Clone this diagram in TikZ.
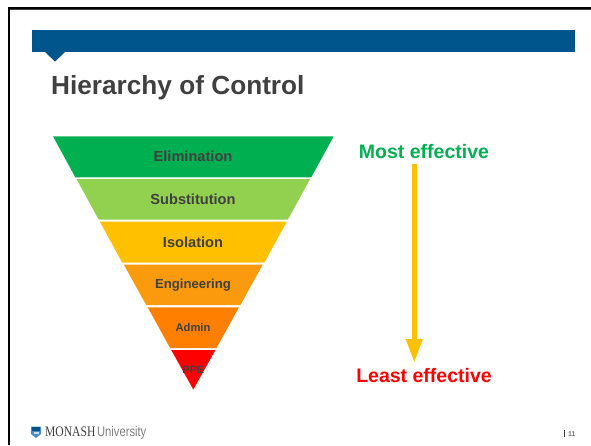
\documentclass[tikz,border=0pt]{standalone}
\usepackage{fontspec}
\setmainfont{Liberation Sans}
\newfontfamily\serifface{Liberation Serif}
\usetikzlibrary{arrows.meta}
\definecolor{barblue}{HTML}{00558C}
\definecolor{inktext}{HTML}{404040}
\definecolor{tierA}{HTML}{00B050}
\definecolor{tierB}{HTML}{92D050}
\definecolor{tierC}{HTML}{FFC000}
\definecolor{tierD}{HTML}{FB9A0C}
\definecolor{tierE}{HTML}{FF8000}
\definecolor{tierF}{HTML}{FF0000}
\definecolor{shieldblue}{HTML}{4F8FC0}
\newcommand{\fsz}[1]{\fontsize{#1}{#1}\selectfont}
\tikzset{
  tierlabel/.style={inner sep=0pt,text=inktext,font=\bfseries\fsz{#1}},
  effect/.style={inner sep=0pt,font=\bfseries\fsz{19.5}},
  logotext/.style={inner sep=0pt,anchor=base west,xscale=0.8,transform shape},
}
\begin{document}
\begin{tikzpicture}[x=1pt,y=-1pt]
\useasboundingbox (0,0) rectangle (591,445);
\fill[white] (0,0) rectangle (591,445);
% slide frame
\fill[black] (7.5,7) rectangle (591,9.3);
\fill[black!75] (10,9.3) rectangle (591,10);
\fill[black] (7.5,7) rectangle (10,445);
% header bar
\fill[barblue] (32,30) rectangle (575,52);
\fill[barblue] (45,52) -- (65,52) -- (55,61.5) -- cycle;
\node[inner sep=0pt,anchor=base west,text=inktext,font=\bfseries\fsz{26.2}] (title) at (51,94) {Hierarchy of Control};
% pyramid tiers
\fill[tierA] (53,136.3) -- (333.7,136.3) -- (311.3,177.3) -- (75.3,177.3) -- cycle;
\fill[tierB] (76.5,179) -- (310.1,179) -- (287.8,219.7) -- (98.8,219.7) -- cycle;
\fill[tierC] (99.9,221.7) -- (286.7,221.7) -- (264.4,262.6) -- (122.2,262.6) -- cycle;
\fill[tierD] (123.8,264.5) -- (262.8,264.5) -- (240.4,305) -- (146.2,305) -- cycle;
\fill[tierE] (147.7,307.3) -- (238.9,307.3) -- (216.5,348) -- (170.1,348) -- cycle;
\fill[tierF] (171.2,350) -- (215.4,350) -- (193.3,389.5) -- cycle;
\node[tierlabel=14.6] (elim) at (193,156) {Elimination};
\node[tierlabel=14.6] (subst) at (193,199.3) {Substitution};
\node[tierlabel=14.6] (iso) at (193,242.3) {Isolation};
\node[tierlabel=13.1] (eng) at (193,285.5) {Engineering};
\node[tierlabel=11.2] (admin) at (193,327.5) {Admin};
\node[tierlabel=10.6] (ppe) at (193.3,370) {PPE};
% effectiveness scale
\node[effect,text=tierA] (most) at (424,151.5) {Most effective};
\node[effect,text=tierF] (least) at (424,375.5) {Least effective};
\coordinate (arrowtop) at (414.3,164);
\coordinate (arrowtip) at (414.3,363);
\draw[tierC,line width=5.4pt,-{Triangle[length=24pt,width=15.4pt]}] (arrowtop) -- (arrowtip);
% footer
\fill[shieldblue] (31,426.5) -- (41,426.5) -- (41,434) -- (36,438) -- (31,434) -- cycle;
\fill[barblue] (32,427.2) rectangle (40,431);
\fill[white!70!shieldblue] (33.5,432) rectangle (38.5,434);
\node[logotext,text=black!75,font=\serifface\fsz{14.5}] (monash) at (45,436) {MONASH};
\node[logotext,text=black!50,font=\fsz{14}] (univ) at (97,436) {University};
\fill[inktext] (564.2,430) rectangle (565,437);
\node[inner sep=0pt,anchor=base west,text=black!55,font=\bfseries\fsz{7}] (pagenum) at (568,436.5) {11};
\end{tikzpicture}
\end{document}
